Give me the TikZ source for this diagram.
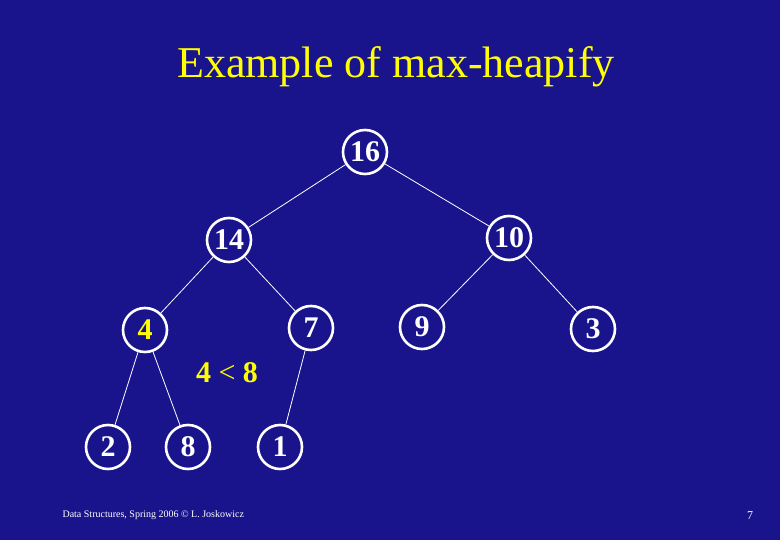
\documentclass[tikz,border=0pt]{standalone}
\usepackage{fontspec}
\setmainfont{Liberation Serif}
\definecolor{bgblue}{RGB}{25,20,140}
\definecolor{titleyellow}{RGB}{255,255,0}
\begin{document}
\begin{tikzpicture}[x=1pt,y=-1pt,
  heapnode/.style={circle,draw=white,line width=2.6pt,minimum size=44pt,inner sep=0pt,
    text=white,font=\fontsize{30}{30}\selectfont\bfseries},
  edge/.style={draw=white,line width=0.8pt}]
\fill[bgblue] (0,0) rectangle (780,540);
\useasboundingbox (0,0) rectangle (780,540);
\node[text=titleyellow,font=\fontsize{44}{44}\selectfont] (title) at (396,67) {Example of max-heapify};
\node[heapnode] (n16) at (365,152) {16};
\node[heapnode] (n14) at (229,240) {14};
\node[heapnode] (n10) at (509,238) {10};
\node[heapnode,text=titleyellow] (n4) at (145,330) {4};
\node[heapnode] (n7) at (311,328) {7};
\node[heapnode] (n9) at (422,327) {9};
\node[heapnode] (n3) at (593,329) {3};
\node[heapnode] (n2) at (108,447) {2};
\node[heapnode] (n8) at (188,447) {8};
\node[heapnode] (n1) at (280,447) {1};
\node[text=titleyellow,font=\fontsize{30}{30}\selectfont\bfseries] (cmp) at (227,373) {4 {\mdseries<} 8};
\draw[edge] (n16) -- (n14);
\draw[edge] (n16) -- (n10);
\draw[edge] (n14) -- (n4);
\draw[edge] (n14) -- (n7);
\draw[edge] (n10) -- (n9);
\draw[edge] (n10) -- (n3);
\draw[edge] (n4) -- (n2);
\draw[edge] (n4) -- (n8);
\draw[edge] (n7) -- (n1);
\node[anchor=west,text=white,font=\fontsize{10}{10}\selectfont] (footer) at (59,515) {Data Structures, Spring 2006 © L. Joskowicz};
\node[text=white,font=\fontsize{12}{12}\selectfont] (page) at (750,516) {7};
\end{tikzpicture}
\end{document}
